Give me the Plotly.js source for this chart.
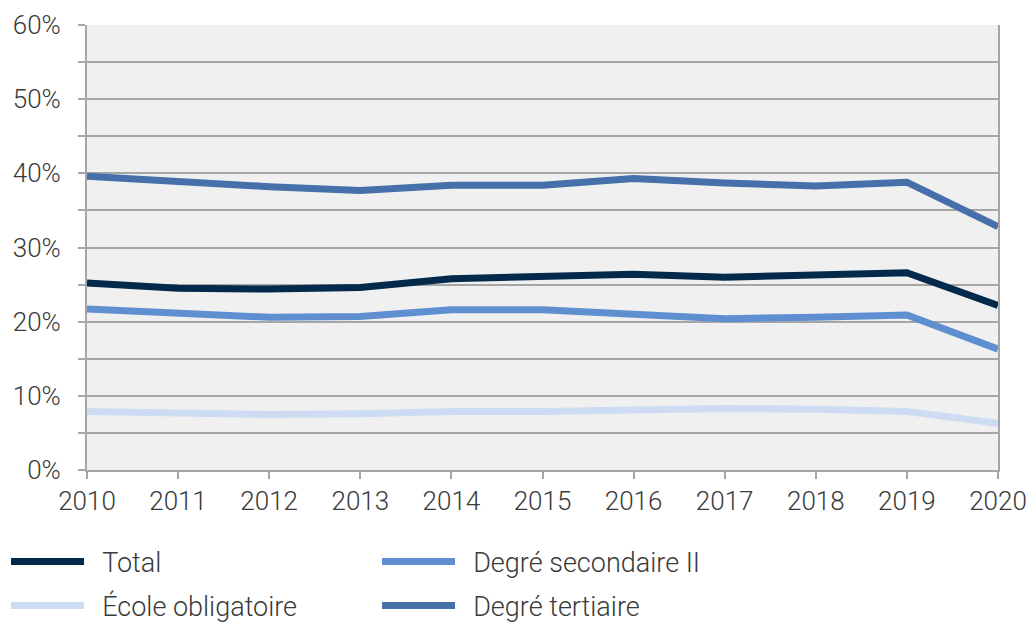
<!DOCTYPE html>
<html><head><meta charset="utf-8">
<script src="https://cdn.plot.ly/plotly-3.0.1.min.js"></script>
<style>body{margin:0;background:#fff}#chart{width:1032px;height:622px}</style>
</head><body><div id="chart"></div>
<script>
const years = [2010,2011,2012,2013,2014,2015,2016,2017,2018,2019,2020];
const total = [25.2,24.5,24.4,24.6,25.8,26.0,26.4,26.0,26.4,26.6,22.2];
const secondaire = [21.7,21.2,20.6,20.7,21.6,21.6,21.1,20.4,20.6,20.9,16.3];
const obligatoire = [7.9,7.7,7.5,7.6,7.9,7.9,8.1,8.3,8.2,7.9,6.3];
const tertiaire = [39.6,38.8,38.2,37.7,38.4,38.4,39.3,38.7,38.3,38.8,32.8];
const yTicks = [0,10,20,30,40,50,60];
const yTickText = ["0%","10%","20%","30%","40%","50%","60%"];

const names = ["Total","Degré secondaire II","École obligatoire","Degré tertiaire"];
const series = [total, secondaire, obligatoire, tertiaire];
const colors = ["#03294b","#5f8fd0","#cddcf3","#4670aa"];
const legendIds = ["legend","legend","legend2","legend2"];

const traces = series.map((s,i)=>({
  x: years, y: s, name: "\u00a0\u00a0" + names[i], type:'scatter', mode:'lines',
  line:{color:colors[i], width:7},
  legend: legendIds[i],
  hoverinfo:'skip'
}));
const tickFont = {family:'Roboto, "Open Sans", sans-serif', size:26, color:'#3a3a3a', weight:300};
const legFont = {family:'Roboto, "Open Sans", sans-serif', size:27, color:'#3a3a3a', weight:300};
const legCommon = {orientation:'h', xanchor:'left', yanchor:'middle',
    entrywidth:283, entrywidthmode:'pixels', itemwidth:73,
    font:legFont, bgcolor:'rgba(0,0,0,0)', borderwidth:0};
const layout = {
  width:1032, height:622,
  margin:{l:87, r:34, t:25, b:152, autoexpand:false},
  paper_bgcolor:'#ffffff', plot_bgcolor:'#f0f0f0',
  font: tickFont,
  showlegend:true,
  legend:Object.assign({x:-0.0889, y:-0.2067}, legCommon),
  legend2:Object.assign({x:-0.0889, y:-0.3056}, legCommon),
  xaxis:{range:[2010,2020], tickvals:years, ticktext:years.map(String),
    showgrid:false, zeroline:false, showline:true, linecolor:'#a6a6a6', linewidth:2,
    ticks:'outside', ticklen:7, tickwidth:2, tickcolor:'#a6a6a6', tickfont:tickFont,
    fixedrange:true},
  yaxis:{range:[0,60], tickvals:yTicks, ticktext:yTickText,
    showgrid:true, gridcolor:'#a6a6a6', gridwidth:2, zeroline:false,
    showline:true, linecolor:'#a6a6a6', linewidth:2, mirror:true,
    ticks:'outside', ticklen:7, tickwidth:2, tickcolor:'#a6a6a6', tickfont:tickFont,
    ticklabelstandoff:12,
    minor:{dtick:5, showgrid:true, gridcolor:'#a6a6a6', gridwidth:2, ticks:'outside', ticklen:7, tickwidth:2, tickcolor:'#a6a6a6'},
    fixedrange:true}
};
Plotly.newPlot('chart', traces, layout, {displayModeBar:false, staticPlot:true});
</script></body></html>
